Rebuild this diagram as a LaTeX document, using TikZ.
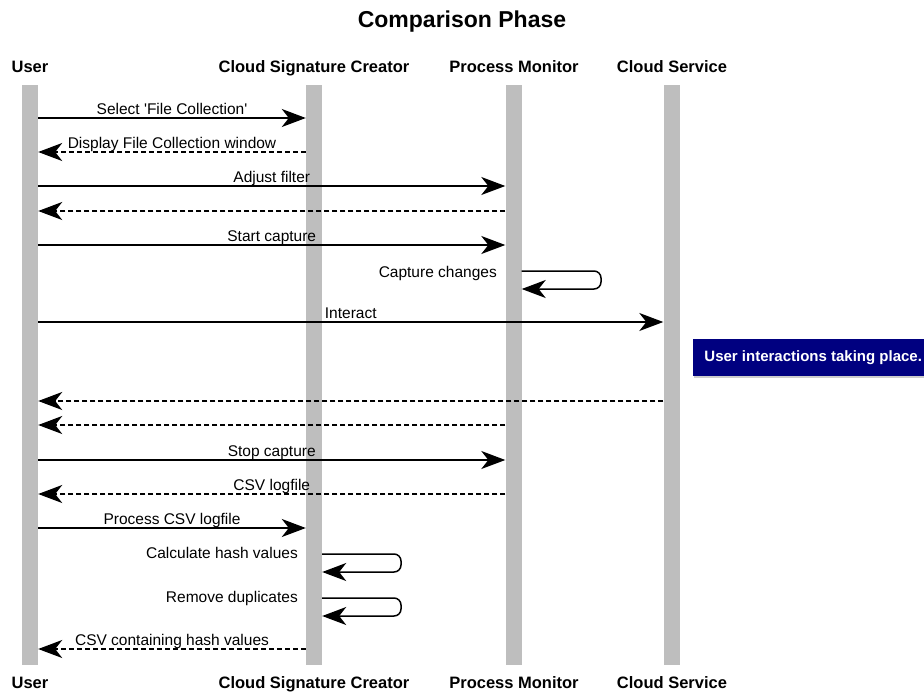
\documentclass[tikz,border=0pt]{standalone}
\usepackage{fontspec}
\setmainfont{Liberation Sans}[Ligatures=TeXOff]
\usetikzlibrary{arrows.meta,shadows}
\definecolor{barc}{HTML}{BEBEBE}
\definecolor{notec}{HTML}{000080}
\tikzset{
  bar/.style={rectangle, fill=barc, draw=none, inner sep=0pt, minimum width=16pt, minimum height=580pt},
  head/.style={anchor=base, font=\fontsize{16.5}{19}\selectfont\bfseries, inner sep=0pt},
  msg/.style={line width=1.5pt, -{Stealth[length=24pt,width=18pt,inset=7pt]}},
  ret/.style={msg, dash pattern=on 5pt off 3pt},
  lbl/.style={anchor=base, yshift=3.5pt, inner sep=0pt, font=\fontsize{15.5}{18}\selectfont},
  slbl/.style={anchor=base east, inner sep=0pt, font=\fontsize{15.5}{18}\selectfont},
  loop/.style={msg, rounded corners=7pt},
  notebox/.style={fill=notec, text=white, font=\fontsize{15}{18}\selectfont\bfseries, inner sep=0pt, minimum width=232pt, minimum height=37pt, anchor=north west, drop shadow={shadow xshift=1pt, shadow yshift=-2pt, fill=black!40}},
}
\begin{document}
\begin{tikzpicture}[x=1pt,y=-1pt]
\useasboundingbox (0,0) rectangle (924,694);
% title
\node[anchor=base, inner sep=0pt, font=\fontsize{23}{26}\selectfont\bfseries] (title) at (462,27) {Comparison Phase};
% headers
\node[head] (hU) at (30,72) {User};
\node[head] (hC) at (314,72) {Cloud Signature Creator};
\node[head] (hP) at (514,72) {Process Monitor};
\node[head] (hS) at (672,72) {Cloud Service};
\node[head] (fU) at (30,688) {User};
\node[head] (fC) at (314,688) {Cloud Signature Creator};
\node[head] (fP) at (514,688) {Process Monitor};
\node[head] (fS) at (672,688) {Cloud Service};
% lifelines
\node[bar] (U) at (30,375) {};
\node[bar] (C) at (314,375) {};
\node[bar] (P) at (513.5,375) {};
\node[bar] (S) at (671.5,375) {};
% messages
\draw[msg] (U.east |- 0,118) -- node[lbl] (m1) {Select 'File Collection'} (C.west |- 0,118);
\draw[ret] (C.west |- 0,152) -- node[lbl] (m2) {Display File Collection window} (U.east |- 0,152);
\draw[msg] (U.east |- 0,186) -- node[lbl] (m3) {Adjust filter} (P.west |- 0,186);
\draw[ret] (P.west |- 0,211) -- (U.east |- 0,211);
\draw[msg] (U.east |- 0,245) -- node[lbl] (m5) {Start capture} (P.west |- 0,245);
\draw[loop] (P.east |- 0,271) -- (601,271) -- (601,289) -- (P.east |- 0,289);
\node[slbl] (m6) at (497,277) {Capture changes};
\draw[msg] (U.east |- 0,322) -- node[lbl] (m7) {Interact} (S.west |- 0,322);
\node[notebox] (note) at (693,339) {\hspace*{8pt}User interactions taking place.\hfill};
\draw[ret] (S.west |- 0,401) -- (U.east |- 0,401);
\draw[ret] (P.west |- 0,425) -- (U.east |- 0,425);
\draw[msg] (U.east |- 0,460) -- node[lbl] (m11) {Stop capture} (P.west |- 0,460);
\draw[ret] (P.west |- 0,494) -- node[lbl] (m12) {CSV logfile} (U.east |- 0,494);
\draw[msg] (U.east |- 0,528) -- node[lbl] (m13) {Process CSV logfile} (C.west |- 0,528);
\draw[loop] (C.east |- 0,554) -- (401,554) -- (401,572) -- (C.east |- 0,572);
\node[slbl] (m14) at (298,558) {Calculate hash values};
\draw[loop] (C.east |- 0,598) -- (401,598) -- (401,616) -- (C.east |- 0,616);
\node[slbl] (m15) at (298,602) {Remove duplicates};
\draw[ret] (C.west |- 0,649) -- node[lbl] (m16) {CSV containing hash values} (U.east |- 0,649);
\end{tikzpicture}
\end{document}
